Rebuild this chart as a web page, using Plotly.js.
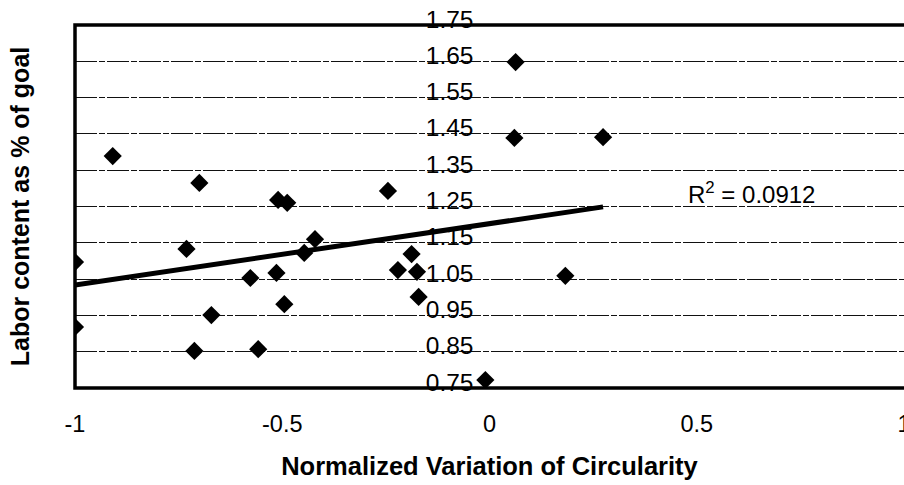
<!DOCTYPE html>
<html>
<head>
<meta charset="utf-8">
<script src="https://cdn.plot.ly/plotly-3.0.1.min.js"></script>
<style>
  html, body { margin: 0; padding: 0; background: #fff; }
  #chart { width: 904px; height: 485px; }
</style>
</head>
<body>
<div id="chart"></div>
<script>
// Data
const circularity = [-1.000, -1.000, -0.909, -0.700, -0.731, -0.510, -0.488, -0.577, -0.514, -0.495,
                     -0.671, -0.712, -0.558, -0.421, -0.447, -0.245, -0.188, -0.221, -0.175, -0.171,
                     -0.010, 0.063, 0.060, 0.274, 0.183];
const laborContent = [1.097, 0.918, 1.389, 1.315, 1.133, 1.268, 1.260, 1.053, 1.067, 0.981,
                      0.951, 0.852, 0.857, 1.160, 1.122, 1.293, 1.119, 1.075, 1.070, 1.001,
                      0.772, 1.648, 1.439, 1.441, 1.059];
const trendX = [-1.0, 0.274];
const trendY = [1.034, 1.249];
const rSquaredText = 'R<sup>2</sup> = 0.0912';
const xTickVals = [-1, -0.5, 0, 0.5, 1];
const xTickText = ['-1', '-0.5', '0', '0.5', '1'];
const yTickVals = [0.75, 0.85, 0.95, 1.05, 1.15, 1.25, 1.35, 1.45, 1.55, 1.65, 1.75];
const yTickText = ['0.75', '0.85', '0.95', '1.05', '1.15', '1.25', '1.35', '1.45', '1.55', '1.65', '1.75'];
const xTitle = 'Normalized Variation of Circularity';
const yTitle = 'Labor content as % of goal';

const FONT = 'Liberation Sans, Arial, sans-serif';

const traces = [
  {
    x: circularity, y: laborContent,
    type: 'scatter', mode: 'markers',
    marker: { symbol: 'diamond', size: 14, color: '#000' },
    xaxis: 'x', yaxis: 'y',
    hoverinfo: 'skip', showlegend: false
  },
  {
    x: trendX, y: trendY,
    type: 'scatter', mode: 'lines',
    line: { color: '#000', width: 5 },
    xaxis: 'x', yaxis: 'y2',
    hoverinfo: 'skip', showlegend: false
  }
];

const layout = {
  width: 904, height: 485,
  margin: { l: 75, r: 0, t: 25, b: 97 },
  paper_bgcolor: '#fff', plot_bgcolor: '#fff',
  showlegend: false,
  font: { family: FONT, color: '#000' },
  xaxis: {
    range: [-1, 1],
    tickvals: xTickVals, ticktext: xTickText,
    showgrid: false, zeroline: false, showline: false,
    ticks: '', ticklabelstandoff: 19, ticklabeloverflow: 'allow',
    tickfont: { family: FONT, size: 23.5, color: '#000' },
    title: { text: xTitle, font: { family: FONT, size: 25.5, weight: 'bold', color: '#000' }, standoff: 21 },
    automargin: false, fixedrange: true
  },
  yaxis: {
    range: [0.75, 1.75],
    tickvals: yTickVals,
    showticklabels: false,
    showgrid: true, gridcolor: '#111', gridwidth: 1, griddash: '22px,2px,6px,2px',
    zeroline: false, showline: false, ticks: '',
    title: { text: yTitle, font: { family: FONT, size: 25, weight: 'bold', color: '#000' }, standoff: 37 },
    automargin: false, fixedrange: true
  },
  yaxis2: {
    overlaying: 'y', anchor: 'free', position: 0.5, side: 'left',
    range: [0.75, 1.75],
    tickvals: yTickVals, ticktext: yTickText,
    showgrid: false, zeroline: false, showline: false, ticks: '',
    ticklabelstandoff: 16, ticklabelshift: -6, ticklabeloverflow: 'allow',
    tickfont: { family: FONT, size: 24.5, color: '#000' },
    automargin: false, fixedrange: true
  },
  shapes: [
    { type: 'rect', xref: 'paper', yref: 'paper', x0: 0, x1: 1.05, y0: 0, y1: 1,
      line: { color: '#000', width: 3.5 }, layer: 'above' }
  ],
  annotations: [
    { x: 0.632, y: 1.287, xref: 'x', yref: 'y', text: rSquaredText, showarrow: false,
      font: { family: FONT, size: 24, color: '#000' }, xanchor: 'center', yanchor: 'middle' }
  ]
};

Plotly.newPlot('chart', traces, layout, { staticPlot: true, displayModeBar: false });
</script>
</body>
</html>
